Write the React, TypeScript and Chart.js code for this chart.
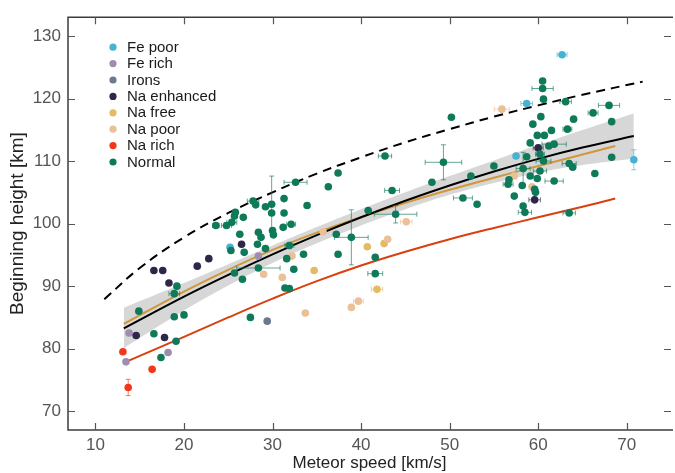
import React, { useEffect, useRef } from "react";
import { Chart, registerables } from "chart.js";
Chart.register(...registerables);

// each point: [speed km/s, height km, half x-error, half y-error]
const fePoor = [[62.7, 127.0, 0.56], [58.7, 119.2, 0.65], [57.5, 110.8], [70.8, 110.2, 0, 1.6], [25.2, 96.2]];
const feRich = [[13.8, 82.5], [13.45, 77.9], [18.2, 79.4], [28.4, 94.8]];
const irons = [[29.4, 84.4]];
const naEnhanced = [
  [14.6, 82.1], [16.6, 92.5], [17.6, 92.5], [18.3, 90.5], [17.8, 81.8], [21.5, 93.2],
  [22.8, 94.4], [26.5, 96.7], [60.0, 112.1, 0.56], [59.6, 103.8, 0.65],
];
const naFree = [[34.7, 92.5], [40.7, 96.3], [42.6, 96.8], [41.8, 89.5, 0.65]];
const naPoor = [
  [29.0, 91.9], [31.1, 91.4], [32.2, 94.8], [33.7, 85.7], [35.7, 98.7], [38.9, 86.6],
  [39.7, 87.6, 0.56], [43.0, 97.5], [45.1, 100.3, 0.65], [55.9, 118.3, 0.84], [57.3, 107.6], [59.3, 105.9],
];
const naRich = [[13.1, 79.5], [16.4, 76.7], [13.7, 73.8, 0, 1.3]];
const normal = [
  [14.9, 86.0], [16.6, 82.4], [17.4, 78.6], [19.1, 81.2], [18.9, 85.1], [20.0, 85.4], [19.2, 90.0],
  [18.9, 88.8, 0.6], [25.3, 95.7], [26.8, 95.4], [26.6, 91.1], [25.7, 92.1], [26.3, 98.3], [28.3, 96.7],
  [28.7, 97.8], [28.4, 98.6], [29.2, 96.0], [28.4, 92.9, 2.45], [27.5, 85.0], [30.0, 98.9], [30.1, 98.2],
  [29.9, 103.1, 0, 4.5], [29.9, 101.7], [29.2, 102.7], [28.1, 103.0], [27.8, 103.6, 0.65], [31.3, 104.0],
  [31.3, 101.7], [33.9, 102.9], [32.1, 99.9, 0.5], [31.2, 99.4], [31.6, 94.4], [31.9, 96.5, 0.5, 0.5],
  [32.4, 92.7], [33.5, 95.1], [31.4, 89.7], [31.9, 89.6], [32.6, 106.6, 1.3], [36.3, 105.9], [37.4, 108.1],
  [37.2, 98.3], [37.4, 95.1], [38.9, 97.8, 1.9, 4.4], [40.8, 102.1], [41.6, 94.6], [41.6, 92.0, 0.84],
  [43.5, 105.3, 0.84], [43.9, 101.5, 2.4, 1.4], [42.7, 110.8, 0.75], [48.0, 106.6], [49.3, 109.8, 2.06, 2.8],
  [50.2, 117.0], [51.5, 104.1, 1.07], [53.1, 103.1], [52.4, 107.6], [55.0, 109.2], [60.5, 122.8],
  [60.5, 121.6, 1.2], [60.6, 119.9], [63.1, 119.5, 0.65], [68.0, 118.9, 1.2], [66.2, 117.7, 0.56],
  [64.0, 116.7], [60.3, 117.1], [59.4, 115.9], [61.5, 114.9], [63.3, 115.1, 0.5], [59.9, 114.1],
  [60.7, 114.1], [59.1, 112.9], [61.2, 112.4], [61.8, 112.7, 1.37], [68.3, 116.3], [68.3, 110.6],
  [66.4, 108.0], [63.5, 109.6, 0.79], [63.9, 109.0], [58.7, 110.7], [60.2, 111.1, 0.5], [60.6, 110.0, 0.84],
  [58.3, 108.8, 0.79, 2.6], [60.2, 108.4, 0.75], [59.1, 107.6], [59.9, 107.2], [61.8, 106.8, 1.03],
  [56.7, 107.0], [56.6, 106.3, 0.56], [58.2, 106.1], [59.6, 105.5], [59.7, 105.0], [57.3, 104.4],
  [58.3, 102.8], [58.5, 101.8, 0.75], [63.5, 101.7, 0.7], [25.8, 101.8], [25.7, 101.2], [25.4, 100.2, 0.56],
  [24.8, 99.7, 0.56], [23.6, 99.7, 0.37], [26.7, 101.0],
];

const groupLabels = ["Fe poor", "Fe rich", "Irons", "Na enhanced", "Na free", "Na poor", "Na rich", "Normal"];
const groupColors = ["#47b2d2", "#9f8cae", "#6b7a8c", "#2e2747", "#e3bb62", "#ecc097", "#f2381b", "#0f7a5a"];
const groups = [fePoor, feRich, irons, naEnhanced, naFree, naPoor, naRich, normal];

// fitted curves
const fitV = [13.2, 20, 25, 30, 35, 40, 45, 50, 55, 60, 65, 70.8];
const fitH = [83.25, 88.33, 91.81, 95.09, 98.15, 101.01, 103.66, 106.1, 108.33, 110.35, 112.16, 114.0];
const bandUpper = [86.55, 90.5, 93.5, 96.5, 99.45, 102.3, 105.0, 107.6, 110.1, 112.55, 114.95, 117.6];
const bandLower = [80.1, 86.1, 90.1, 93.7, 96.85, 99.7, 102.3, 104.6, 106.5, 108.15, 109.35, 110.4];
const naFreeFitV = [13.2, 20, 25, 30, 35, 40, 45, 50, 55, 60, 65, 68.7];
const naFreeFitH = [83.95, 89.13, 92.61, 95.79, 98.55, 101.01, 103.31, 105.4, 107.33, 109.2, 111.06, 112.4];
const naRichFitV = [13.3, 20, 25, 30, 35, 40, 45, 50, 55, 60, 65, 68.7];
const naRichFitH = [77.8, 81.9, 85.0, 88.0, 90.8, 93.3, 95.5, 97.5, 99.3, 101.0, 102.7, 104.0];
const limitV = [11, 15, 20, 25, 30, 35, 40, 45, 50, 55, 60, 65, 71.8];
const limitH = [87.9, 92.9, 97.8, 101.7, 105.0, 108.0, 110.6, 113.0, 115.1, 117.1, 118.9, 120.6, 122.7];

const xTicks = [10, 20, 30, 40, 50, 60, 70];
const yTicks = [70, 80, 90, 100, 110, 120, 130];

const FONT = "'Liberation Sans', Arial, sans-serif";

function hexA(hex: string, a: number) {
  const n = parseInt(hex.slice(1), 16);
  return `rgba(${(n >> 16) & 255},${(n >> 8) & 255},${n & 255},${a})`;
}

const zip = (xs: number[], ys: number[]) => xs.map((x, i) => ({ x, y: ys[i] }));

const errorBars = {
  id: "errorBars",
  beforeDatasetDraw(chart: any, args: any) {
    const ds = chart.data.datasets[args.index];
    if (!ds.errColor) return;
    const { ctx, scales } = chart;
    const xs = scales.x, ys = scales.y;
    ctx.save();
    ctx.strokeStyle = ds.errColor;
    ctx.lineWidth = 1;
    for (const p of ds.data) {
      const px = xs.getPixelForValue(p.x), py = ys.getPixelForValue(p.y);
      if (p.xe) {
        const a = xs.getPixelForValue(p.x - p.xe), b = xs.getPixelForValue(p.x + p.xe);
        ctx.beginPath();
        ctx.moveTo(a, py); ctx.lineTo(b, py);
        ctx.moveTo(a, py - 2.5); ctx.lineTo(a, py + 2.5);
        ctx.moveTo(b, py - 2.5); ctx.lineTo(b, py + 2.5);
        ctx.stroke();
      }
      if (p.ye) {
        const a = ys.getPixelForValue(p.y - p.ye), b = ys.getPixelForValue(p.y + p.ye);
        ctx.beginPath();
        ctx.moveTo(px, a); ctx.lineTo(px, b);
        ctx.moveTo(px - 2.5, a); ctx.lineTo(px + 2.5, a);
        ctx.moveTo(px - 2.5, b); ctx.lineTo(px + 2.5, b);
        ctx.stroke();
      }
    }
    ctx.restore();
  },
};

const frame = {
  id: "frame",
  afterDraw(chart: any) {
    const { ctx, chartArea: ca, scales } = chart;
    ctx.save();
    ctx.strokeStyle = "#3c3c3c";
    ctx.lineWidth = 1.5;
    ctx.beginPath();
    ctx.moveTo(ca.right + 2, ca.top);
    ctx.lineTo(ca.left, ca.top);
    ctx.lineTo(ca.left, ca.bottom);
    ctx.lineTo(ca.right + 2, ca.bottom);
    ctx.stroke();
    ctx.lineWidth = 1.2;
    ctx.strokeStyle = "#555";
    ctx.beginPath();
    for (const v of xTicks) {
      const x = Math.round(scales.x.getPixelForValue(v)) + 0.5;
      ctx.moveTo(x, ca.bottom); ctx.lineTo(x, ca.bottom - 7);
      ctx.moveTo(x, ca.top); ctx.lineTo(x, ca.top + 7);
    }
    for (const v of yTicks) {
      const y = Math.round(scales.y.getPixelForValue(v)) + 0.5;
      ctx.moveTo(ca.left, y); ctx.lineTo(ca.left + 7, y);
      ctx.moveTo(ca.right, y); ctx.lineTo(ca.right - 7, y);
    }
    ctx.stroke();
    // legend
    ctx.font = `15px ${FONT}`;
    ctx.textBaseline = "middle";
    ctx.textAlign = "left";
    groupLabels.forEach((lab, i) => {
      const y = ca.top + 30 + i * 16.4;
      ctx.fillStyle = groupColors[i];
      ctx.beginPath();
      ctx.arc(ca.left + 45, y, 3.6, 0, Math.PI * 2);
      ctx.fill();
      ctx.fillStyle = "#1a1a1a";
      ctx.fillText(lab, ca.left + 59, y + 0.5);
    });
    ctx.restore();
  },
};

export default function App() {
  const ref = useRef<HTMLCanvasElement>(null);
  useEffect(() => {
    if (!ref.current) return;
    const lineBase = { type: "line", pointRadius: 0, fill: false, tension: 0.4 };
    const datasets: any[] = [
      { ...lineBase, data: zip(fitV, bandUpper), borderWidth: 0, borderColor: "rgba(0,0,0,0)", backgroundColor: "rgba(205,205,205,0.8)", fill: "+1", order: 30 },
      { ...lineBase, data: zip(fitV, bandLower), borderWidth: 0, borderColor: "rgba(0,0,0,0)", order: 30 },
      { ...lineBase, data: zip(limitV, limitH), borderColor: "#000", borderWidth: 2, borderDash: [9, 6], order: 20 },
      { ...lineBase, data: zip(naRichFitV, naRichFitH), borderColor: "#d9400f", borderWidth: 2, order: 20 },
      { ...lineBase, data: zip(naFreeFitV, naFreeFitH), borderColor: "#cf983a", borderWidth: 2, order: 20 },
      { ...lineBase, data: zip(fitV, fitH), borderColor: "#000", borderWidth: 2, order: 19 },
      ...groups.map((g, i) => ({
        type: "scatter",
        label: groupLabels[i],
        data: g.map((p) => ({ x: p[0], y: p[1], xe: p[2] || 0, ye: p[3] || 0 })),
        backgroundColor: groupColors[i],
        borderWidth: 0,
        pointRadius: 3.8,
        errColor: hexA(groupColors[i], 0.65),
        order: 10 - i,
      })),
    ];
    Chart.defaults.font.family = FONT;
    const chart = new Chart(ref.current, {
      type: "scatter",
      data: { datasets },
      plugins: [errorBars, frame],
      options: {
        animation: false,
        responsive: false,
        layout: { padding: { top: 14, right: 0, left: 0, bottom: 0 } },
        plugins: { legend: { display: false }, tooltip: { enabled: false } },
        scales: {
          x: {
            type: "linear",
            min: 6.9,
            max: 75,
            grid: { display: false, drawTicks: false },
            border: { display: false },
            afterBuildTicks: (s: any) => { s.ticks = xTicks.map((value) => ({ value })); },
            afterFit: (s: any) => { s.height = 43; },
            ticks: { color: "#555", font: { size: 17 }, padding: 5, maxRotation: 0 },
            title: { display: true, text: "Meteor speed [km/s]", color: "#222", font: { size: 17 }, padding: { top: 0, bottom: -1 } },
          },
          y: {
            type: "linear",
            min: 67,
            max: 133,
            grid: { display: false, drawTicks: false },
            border: { display: false },
            afterBuildTicks: (s: any) => { s.ticks = yTicks.map((value) => ({ value })); },
            afterFit: (s: any) => { s.width = 68; },
            ticks: { color: "#555", font: { size: 17 }, padding: 7 },
            title: { display: true, text: "Beginning height [km]", color: "#222", font: { size: 19 }, padding: { top: 6, bottom: 0 } },
          },
        },
      } as any,
    } as any);
    return () => chart.destroy();
  }, []);
  return (
    <div style={{ position: "absolute", left: 0, top: 0, width: 675, height: 473, background: "#fff" }}>
      <canvas ref={ref} width={675} height={473} style={{ display: "block" }} />
    </div>
  );
}
